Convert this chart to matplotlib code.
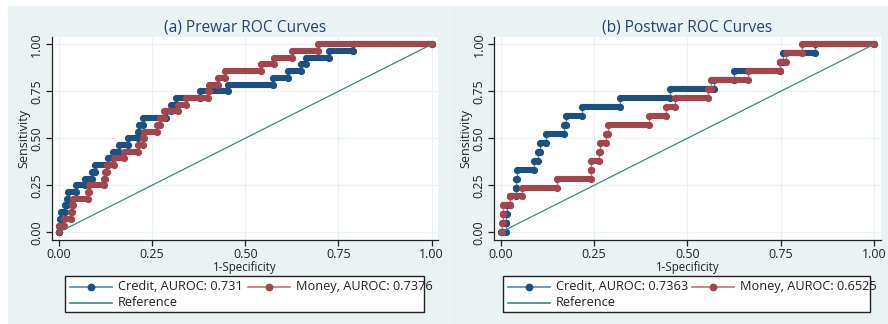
import numpy as np
import matplotlib
matplotlib.use("Agg")
import matplotlib.pyplot as plt
from matplotlib.lines import Line2D

plt.rcParams["font.family"] = ["Open Sans", "DejaVu Sans"]

# fpr at the right end of each sensitivity level (level k = k / n_pos)
pre_credit_fpr = [0.000, 0.003, 0.006, 0.017, 0.021, 0.026, 0.047, 0.071, 0.088, 0.096,
                  0.131, 0.145, 0.163, 0.187, 0.212, 0.214, 0.225, 0.288, 0.300, 0.315,
                  0.380, 0.455, 0.574, 0.614, 0.650, 0.663, 0.724, 0.788, 1.000]
pre_money_fpr = [0.000, 0.013, 0.033, 0.035, 0.038, 0.078, 0.080, 0.122, 0.125, 0.129,
                 0.149, 0.174, 0.212, 0.227, 0.230, 0.264, 0.272, 0.283, 0.319, 0.341,
                 0.401, 0.403, 0.426, 0.447, 0.542, 0.576, 0.626, 0.694, 1.000]
post_credit_fpr = [0.013, 0.014, 0.016, 0.025, 0.040, 0.041, 0.043, 0.090, 0.101, 0.105,
                   0.121, 0.170, 0.175, 0.217, 0.320, 0.454, 0.572, 0.624, 0.748, 0.755,
                   0.842, 1.000]
post_money_fpr = [0.003, 0.005, 0.007, 0.025, 0.056, 0.150, 0.241, 0.242, 0.263, 0.265,
                  0.281, 0.288, 0.397, 0.442, 0.467, 0.556, 0.563, 0.663, 0.748, 0.763,
                  0.806, 1.000]

titles = ["(a) Prewar ROC Curves", "(b) Postwar ROC Curves"]
credit_auroc = ["0.731", "0.7363"]
money_auroc = ["0.7376", "0.6525"]
ticks = [0.0, 0.25, 0.5, 0.75, 1.0]
tick_labels = ["0.00", "0.25", "0.50", "0.75", "1.00"]

navy, navy_line = "#1c5080", "#5a86b0"
maroon, maroon_line = "#a2454c", "#c47479"
ref_col = "#3a8a80"
bg = "#eaf2f3"
txt = "#222222"

W, H = 888, 324
fig = plt.figure(figsize=(W / 100, H / 100), dpi=100)
fig.patch.set_facecolor("white")
fig.patches.append(plt.Rectangle((8 / W, 0), 1 - 8 / W, 1 - 6 / H, color=bg,
                                 transform=fig.transFigure, zorder=-10))
fig.add_artist(Line2D([449 / W, 449 / W], [0, 1 - 6 / H], color="#f3f8f8", lw=0.8,
                      transform=fig.transFigure, zorder=-9))


def fx(x):
    return x / W


def fy(y):
    return 1 - y / H


def px_axes(l, r, t, b):
    return fig.add_axes([fx(l), fy(b), (r - l) / W, (b - t) / H])


def draw_roc(ax, fpr_end, dot, line):
    fpr_end = np.asarray(fpr_end)
    n = len(fpr_end) - 1
    tpr = np.arange(n + 1) / n
    start = np.concatenate([[0.0], fpr_end[:-1]])
    xs = np.column_stack([start, fpr_end]).ravel()
    ys = np.repeat(tpr, 2)
    ax.plot(xs, ys, color=line, lw=1.0, zorder=2)
    ax.hlines(tpr, start, fpr_end, colors=dot, lw=4.4, zorder=3)
    ax.plot(np.r_[start, fpr_end], np.r_[tpr, tpr], "o", ms=5.2, color=dot,
            mec=dot, mew=0, zorder=3)


def legend_entry(x0, x1, y, label, line, dot=None):
    fig.add_artist(Line2D([fx(x0), fx(x1)], [fy(y), fy(y)], color=line, lw=1.2,
                          transform=fig.transFigure, zorder=6))
    if dot is not None:
        xm = (x0 + x1) / 2
        fig.add_artist(Line2D([fx(xm)], [fy(y)], marker="o", ms=4.6, color=dot,
                              mec=dot, transform=fig.transFigure, zorder=7))
    fig.text(fx(x1 + 6), fy(y), label, fontsize=9.2, color=txt, va="center",
             ha="left", zorder=7)


# (plot left, plot right, x=0 px, x=1 px, legend left, legend right, legend col2 x)
panels = [(51.7, 438.0, 58.7, 431.7, 65.0, 424.3, 248.0),
          (494.0, 880.7, 500.7, 874.0, 503.3, 869.7, 692.3)]
curves = [(pre_credit_fpr, pre_money_fpr), (post_credit_fpr, post_money_fpr)]

for i, (l, r, x0, x1, lg_l, lg_r, col2) in enumerate(panels):
    ax = px_axes(l, r, 36.7, 240.0)
    sx = x1 - x0
    ax.set_xlim(-(x0 - l) / sx, 1 + (r - x1) / sx)
    ax.set_ylim(-(240.0 - 232.3) / 188.0, 1 + (44.3 - 36.7) / 188.0)
    ax.set_facecolor("white")
    for s in ["top", "right"]:
        ax.spines[s].set_visible(False)
    for s in ["left", "bottom"]:
        ax.spines[s].set_linewidth(0.9)
        ax.spines[s].set_color(txt)
    ax.set_xticks(ticks)
    ax.set_xticklabels(tick_labels)
    ax.set_yticks(ticks)
    ax.set_yticklabels(tick_labels, rotation=90, va="center")
    ax.tick_params(length=4, width=0.9, labelsize=9, colors=txt, pad=2)
    ax.grid(True, color=bg, lw=0.9)
    ax.set_axisbelow(True)

    credit, money = curves[i]
    draw_roc(ax, credit, navy, navy_line)
    draw_roc(ax, money, maroon, maroon_line)
    ax.plot([0, 1], [0, 1], color=ref_col, lw=0.9, zorder=4)

    ax.set_title(titles[i], fontsize=11.2, color="#26426f", pad=4)
    ax.set_xlabel("1-Specificity", fontsize=8.3, color=txt, labelpad=-0.5)
    ax.set_ylabel("Sensitivity", fontsize=9, color=txt, labelpad=0)

    # legend box below each panel
    fig.add_artist(plt.Rectangle((fx(lg_l), fy(312.3)), (lg_r - lg_l) / W, 36.6 / H,
                                 facecolor="white", edgecolor=txt, lw=1.0,
                                 transform=fig.transFigure, zorder=1))
    h0 = lg_l + 5
    legend_entry(h0, h0 + 41.7, 286.7, "Credit, AUROC: " + credit_auroc[i], navy_line, navy)
    legend_entry(col2, col2 + 41.7, 286.7, "Money, AUROC: " + money_auroc[i], maroon_line, maroon)
    legend_entry(h0, h0 + 41.7, 302.7, "Reference", ref_col)

plt.savefig("out.png", dpi=100, facecolor=fig.get_facecolor())
